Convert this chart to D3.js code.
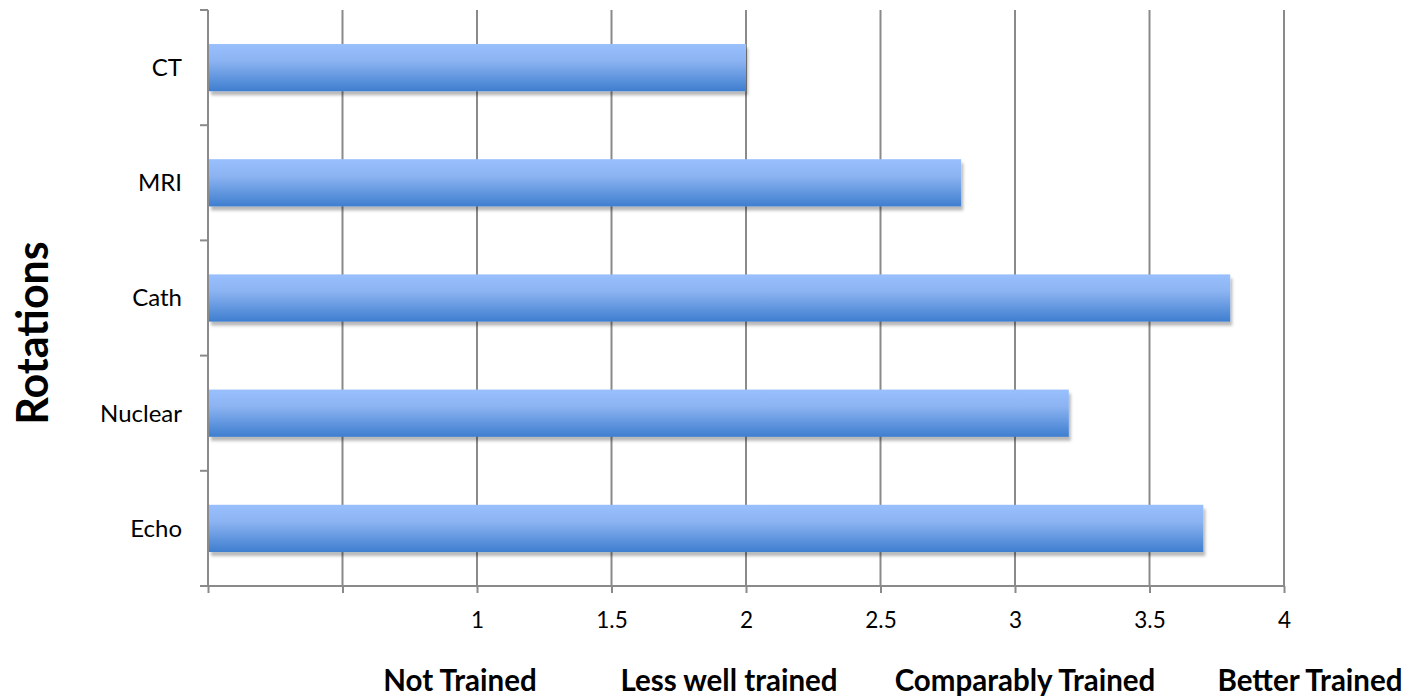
<!DOCTYPE html>
<html>
<head>
<meta charset="utf-8">
<script src="https://cdn.jsdelivr.net/npm/d3@7"></script>
<style>
  html, body { margin: 0; padding: 0; background: #fff; }
  svg { display: block; }
  text { font-family: Lato, "Open Sans", sans-serif; fill: #000; }
</style>
</head>
<body>
<svg id="chart" width="1406" height="697"></svg>
<script>
// Training ratings by rotation
const rotations = ["CT", "MRI", "Cath", "Nuclear", "Echo"];
const ratings = [2.0, 2.8, 3.8, 3.2, 3.7];
const tickValues = [0, 0.5, 1, 1.5, 2, 2.5, 3, 3.5, 4];
const tickLabels = ["", "", "1", "1.5", "2", "2.5", "3", "3.5", "4"];
const levelNames = ["Not Trained", "Less well trained", "Comparably Trained", "Better Trained"];

const svg = d3.select("#chart");
const margin = { left: 208, top: 10, right: 122, bottom: 111 };
const W = 1406, H = 697;
const x = d3.scaleLinear().domain([0, 4]).range([margin.left, W - margin.right]);
const y = d3.scaleBand().domain(rotations).range([margin.top, H - margin.bottom]).paddingInner(0.59).paddingOuter(0.295);
const band = d3.scaleBand().domain(rotations).range([margin.top, H - margin.bottom]);

const defs = svg.append("defs");
const grad = defs.append("linearGradient").attr("id", "barFill")
  .attr("x1", 0).attr("y1", 0).attr("x2", 0).attr("y2", 1);
grad.append("stop").attr("offset", "0%").attr("stop-color", "#99c0fd");
grad.append("stop").attr("offset", "35%").attr("stop-color", "#8db4f2");
grad.append("stop").attr("offset", "100%").attr("stop-color", "#3e7ecf");
const shadow = defs.append("filter").attr("id", "shadow")
  .attr("x", "-5%").attr("y", "-20%").attr("width", "115%").attr("height", "160%");
shadow.append("feDropShadow").attr("dx", 2).attr("dy", 4).attr("stdDeviation", 1.6)
  .attr("flood-color", "#000").attr("flood-opacity", 0.28);

const gridColor = "#8a8a8a";

// vertical gridlines
svg.append("g").selectAll("line").data(tickValues.slice(1)).join("line")
  .attr("x1", d => x(d)).attr("x2", d => x(d))
  .attr("y1", margin.top).attr("y2", H - margin.bottom)
  .attr("stroke", gridColor).attr("stroke-width", 2);

// bars
svg.append("g").selectAll("rect").data(rotations).join("rect")
  .attr("x", x(0) + 1)
  .attr("y", d => y(d))
  .attr("width", (d, i) => x(ratings[i]) - x(0) - 1)
  .attr("height", y.bandwidth())
  .attr("fill", "url(#barFill)")
  .attr("filter", "url(#shadow)");

// x axis
const xAxis = d3.axisBottom(x).tickValues(tickValues)
  .tickFormat((d, i) => tickLabels[i]).tickSize(7).tickPadding(19).tickSizeOuter(0);
const gx = svg.append("g").attr("transform", `translate(0,${H - margin.bottom})`).call(xAxis);
gx.select(".domain").attr("stroke", gridColor).attr("stroke-width", 2)
  .attr("d", `M${x(0) - 8},0H${x(4)}`);
gx.selectAll(".tick line").attr("stroke", gridColor).attr("stroke-width", 2);
gx.selectAll(".tick text").attr("font-size", 22.5).attr("font-family", "Lato, sans-serif").attr("fill", "#000");

// y axis: ticks at band boundaries
const boundaries = rotations.map(r => band(r)).concat([band.range()[1]]);
const gy = svg.append("g");
gy.append("line").attr("x1", x(0)).attr("x2", x(0))
  .attr("y1", margin.top).attr("y2", H - margin.bottom)
  .attr("stroke", gridColor).attr("stroke-width", 2);
gy.selectAll("line.tk").data(boundaries).join("line").attr("class", "tk")
  .attr("x1", x(0) - 8).attr("x2", x(0))
  .attr("y1", d => d).attr("y2", d => d)
  .attr("stroke", gridColor).attr("stroke-width", 2);
gy.selectAll("text").data(rotations).join("text")
  .attr("x", x(0) - 26)
  .attr("y", d => band(d) + band.bandwidth() / 2)
  .attr("dy", "0.35em")
  .attr("text-anchor", "end")
  .attr("font-size", 24)
  .text(d => d);

// y axis title
svg.append("text")
  .attr("transform", "translate(48,333) rotate(-90)")
  .attr("text-anchor", "middle")
  .attr("font-size", 43).attr("font-weight", 700)
  .text("Rotations");

// training level labels along the bottom
const lvlX = [460, 729, 1025, 1310];
svg.append("g").selectAll("text").data(levelNames).join("text")
  .attr("x", (d, i) => lvlX[i])
  .attr("y", 691)
  .attr("text-anchor", "middle")
  .attr("font-size", 29.5).attr("font-weight", 700)
  .text(d => d);
</script>
</body>
</html>
